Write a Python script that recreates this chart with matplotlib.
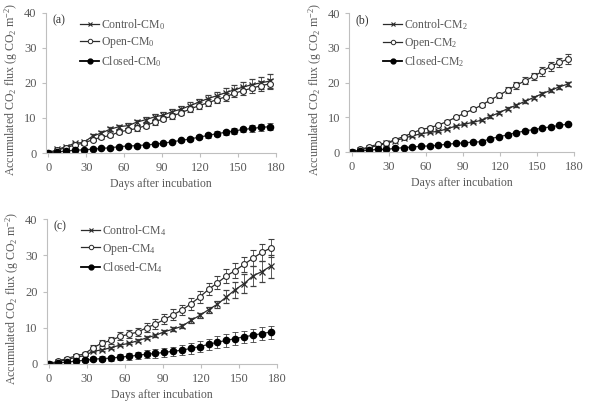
import numpy as np
import matplotlib
matplotlib.use("Agg")
import matplotlib.pyplot as plt
from matplotlib.lines import Line2D

plt.rcParams['font.family'] = ['Liberation Serif', 'DejaVu Serif']
plt.rcParams['mathtext.fontset'] = 'custom'
plt.rcParams['mathtext.rm'] = 'Liberation Serif'
plt.rcParams['mathtext.it'] = 'Liberation Serif'
plt.rcParams['mathtext.default'] = 'regular'

days = [0, 7, 14, 21, 28, 35, 42, 49, 56, 63, 70, 77, 84, 91, 98, 105, 112, 119,
        126, 133, 140, 147, 154, 161, 168, 175]

# Panel (a) CM0
a_control = [0, 1.0, 1.8, 2.8, 3.0, 4.8, 5.7, 6.8, 7.5, 7.8, 8.8, 9.5, 10.3, 10.8, 11.8,
             12.5, 13.5, 14.5, 15.5, 16.3, 17.2, 18.0, 18.8, 19.5, 20.0, 20.5]
a_control_err = [0, 0.3, 0.3, 0.4, 0.4, 0.5, 0.5, 0.6, 0.6, 0.7, 0.7, 0.7, 0.8, 0.8, 0.8,
                 0.9, 0.9, 1.0, 1.1, 1.2, 1.3, 1.4, 1.5, 1.6, 1.8, 2.0]
a_open = [0, 0.8, 1.5, 2.3, 2.8, 3.8, 4.5, 5.0, 6.0, 6.5, 7.0, 7.8, 8.8, 9.8, 10.5,
          11.5, 12.5, 13.5, 14.3, 15.2, 16.0, 17.0, 17.8, 18.5, 19.2, 19.7]
a_open_err = [0, 0.2, 0.3, 0.3, 0.4, 0.4, 0.5, 0.5, 0.6, 0.6, 0.6, 0.7, 0.7, 0.7, 0.8,
              0.8, 0.9, 0.9, 1.0, 1.0, 1.1, 1.1, 1.2, 1.3, 1.4, 1.5]
a_closed = [0, 0.3, 0.6, 0.8, 0.9, 1.1, 1.3, 1.5, 1.8, 2.0, 2.1, 2.3, 2.5, 2.8, 3.2,
            3.6, 4.0, 4.5, 5.0, 5.5, 5.9, 6.3, 6.7, 7.0, 7.3, 7.5]
a_closed_err = [0, 0.1, 0.1, 0.1, 0.1, 0.2, 0.2, 0.2, 0.2, 0.3, 0.3, 0.3, 0.3, 0.4, 0.4,
                0.4, 0.5, 0.5, 0.6, 0.7, 0.7, 0.8, 0.8, 0.9, 0.9, 1.0]

# Panel (b) CM2
b_control = [0, 0.6, 1.3, 1.9, 2.5, 3.3, 4.0, 4.7, 5.3, 5.7, 6.0, 6.7, 7.5, 8.0, 8.6,
             9.2, 10.3, 11.3, 12.5, 13.5, 14.6, 15.7, 16.8, 17.8, 18.8, 19.6]
b_control_err = [0, 0.1, 0.1, 0.1, 0.2, 0.2, 0.2, 0.2, 0.3, 0.3, 0.3, 0.3, 0.3, 0.3, 0.3,
                 0.3, 0.4, 0.4, 0.4, 0.4, 0.4, 0.5, 0.5, 0.5, 0.5, 0.5]
b_open = [0, 0.8, 1.5, 2.3, 2.6, 3.6, 4.5, 5.5, 6.5, 7.0, 7.8, 8.8, 10.0, 11.2, 12.3,
          13.5, 15.0, 16.3, 17.8, 19.2, 20.5, 21.8, 23.2, 24.7, 25.8, 26.8]
b_open_err = [0, 0.1, 0.2, 0.2, 0.2, 0.3, 0.3, 0.3, 0.4, 0.4, 0.4, 0.5, 0.5, 0.5, 0.6,
              0.6, 0.7, 0.7, 0.8, 0.9, 1.0, 1.1, 1.2, 1.3, 1.4, 1.5]
b_closed = [0, 0.4, 0.6, 0.8, 0.8, 1.1, 1.3, 1.5, 1.7, 1.8, 2.0, 2.3, 2.5, 2.7, 2.9,
            3.0, 3.9, 4.4, 5.0, 5.6, 6.1, 6.5, 6.9, 7.3, 7.7, 8.1]
b_closed_err = [0, 0.1, 0.1, 0.1, 0.1, 0.1, 0.1, 0.1, 0.1, 0.1, 0.1, 0.2, 0.2, 0.2, 0.2,
                0.2, 0.2, 0.2, 0.2, 0.2, 0.3, 0.3, 0.3, 0.3, 0.3, 0.3]

# Panel (c) CM4
c_control = [0, 0.6, 1.2, 1.8, 2.3, 3.5, 3.9, 4.5, 5.2, 5.7, 6.4, 7.2, 7.9, 8.9, 9.6,
             10.4, 12.0, 13.4, 15.0, 16.5, 18.5, 20.5, 22.2, 24.3, 25.5, 27.0]
c_control_err = [0, 0.1, 0.1, 0.2, 0.2, 0.2, 0.3, 0.3, 0.3, 0.3, 0.4, 0.4, 0.4, 0.4, 0.5,
                 0.5, 0.6, 0.7, 0.8, 1.0, 1.8, 2.2, 2.5, 2.8, 3.0, 3.2]
c_open = [0, 0.8, 1.5, 2.2, 2.8, 4.5, 5.8, 6.5, 7.6, 8.2, 8.8, 10.0, 11.0, 12.3, 13.6,
          14.9, 16.6, 18.5, 20.6, 22.4, 24.3, 25.8, 27.5, 29.2, 30.8, 32.0]
c_open_err = [0, 0.3, 0.4, 0.5, 0.6, 0.8, 0.9, 1.0, 1.1, 1.1, 1.2, 1.3, 1.4, 1.4, 1.5,
              1.5, 1.6, 1.6, 1.7, 1.8, 1.9, 2.0, 2.1, 2.2, 2.4, 2.6]
c_closed = [0, 0.3, 0.5, 0.8, 1.0, 1.3, 1.5, 1.6, 1.9, 2.1, 2.4, 2.7, 2.9, 3.2, 3.5,
            3.8, 4.3, 4.8, 5.4, 6.0, 6.5, 7.0, 7.5, 7.9, 8.4, 8.8]
c_closed_err = [0, 0.2, 0.3, 0.4, 0.4, 0.5, 0.6, 0.7, 0.8, 0.9, 1.0, 1.1, 1.2, 1.3, 1.3,
                1.4, 1.5, 1.5, 1.6, 1.6, 1.7, 1.7, 1.7, 1.8, 1.8, 1.8]

panels = [
    ("(a)", "0", [0.0766, 0.625, 0.386, 0.344],
     (a_control, a_control_err), (a_open, a_open_err), (a_closed, a_closed_err)),
    ("(b)", "2", [0.585, 0.627, 0.377, 0.341],
     (b_control, b_control_err), (b_open, b_open_err), (b_closed, b_closed_err)),
    ("(c)", "4", [0.078, 0.108, 0.386, 0.355],
     (c_control, c_control_err), (c_open, c_open_err), (c_closed, c_closed_err)),
]

TXT = '#595959'
AX = '#bfbfbf'
LC = '#2b2b2b'

fig = plt.figure(figsize=(5.97, 4.08), dpi=100)

for label, sub, pos, ctrl, opn, cls in panels:
    ax = fig.add_axes(pos)
    common = dict(color=LC, lw=0.9, capsize=2.2, elinewidth=0.6, capthick=0.6, ecolor='#404040')
    ax.errorbar(days, ctrl[0], yerr=ctrl[1], marker='x', ms=4.5, mew=0.9, **common)
    ax.errorbar(days, opn[0], yerr=opn[1], marker='o', ms=4.2, mfc='white', mec=LC,
                mew=0.8, **common)
    ax.errorbar(days, cls[0], yerr=cls[1], marker='o', ms=4.5, mfc='black', mec='black',
                **common)
    ax.set_xlim(-2, 180)
    ax.set_ylim(0, 40)
    ax.set_xticks([0, 30, 60, 90, 120, 150, 180])
    ax.set_yticks([0, 10, 20, 30, 40])
    for s in ['top', 'right']:
        ax.spines[s].set_visible(False)
    for s in ['left', 'bottom']:
        ax.spines[s].set_color(AX)
        ax.spines[s].set_linewidth(0.8)
    ax.tick_params(colors=AX, labelcolor=TXT, labelsize=9, length=3, width=0.8, direction='out')
    ax.set_xlabel('Days after incubation', color=TXT, fontsize=8.5, labelpad=3)
    ax.set_ylabel('Accumulated CO$_2$ flux (g CO$_2$ m$^{-2}$)', color=TXT, fontsize=8.6)
    ax.yaxis.set_label_coords(-0.11, 0.45)
    ax.text(0.03, 0.99, label, transform=ax.transAxes, color='#333333', fontsize=8.5,
            ha='left', va='top')
    handles = [
        Line2D([], [], color=LC, lw=0.9, marker='x', ms=3.5, mew=0.8),
        Line2D([], [], color=LC, lw=0.9, marker='o', ms=3.2, mfc='white', mec=LC, mew=0.7),
        Line2D([], [], color='black', lw=1.3, marker='o', ms=3.5, mfc='black'),
    ]
    labels = ['Control-CM$_{%s}$' % sub, 'Open-CM$_{%s}$' % sub, 'Closed-CM$_{%s}$' % sub]
    leg = ax.legend(handles, labels, loc='upper left', bbox_to_anchor=(0.12, 1.02), frameon=False,
                    fontsize=8.5, handlelength=1.6, handletextpad=0.15, labelspacing=0.3,
                    borderaxespad=0.2)
    for t in leg.get_texts():
        t.set_color(TXT)

fig.savefig('out.png', dpi=100)
